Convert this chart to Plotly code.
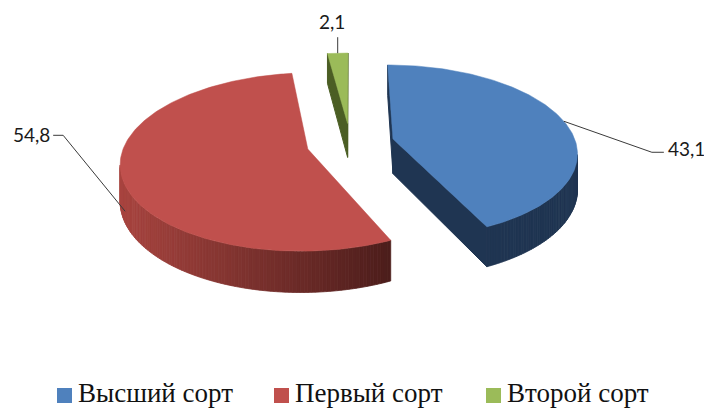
import numpy as np
import plotly.graph_objects as go

# ---------------- data ----------------
categories = ["Высший сорт", "Первый сорт", "Второй сорт"]
values = [43.1, 54.8, 2.1]

# ---------------- styles ----------------
top_colors = ["#4F81BD", "#C0504D", "#9BBB59"]
side_colors = ["#1F3552", "#7A2F2D", "#4B5E24"]
red_grad = ((168, 68, 63), (76, 29, 27))   # left -> right shading of the red wall

# ---------------- 3D pie geometry (page pixels) ----------------
CX, CY = 350.4, 143.3      # projected pie centre
K, B = 183.0, 85.7         # horizontal / vertical radius scale
A = 0.1429                 # perspective strength
H = 35.0                   # thickness
PULL = 0.24                # explosion (fraction of radius)
CAM_V = -1.0 / A
PAGE_OFF = 8               # browser default body margin


def proj(u, v):
    d = 1 + A * v
    return CX + K * u / d, CY - B * v / d


def drop(v):
    return H / (1 + A * v)


def lerp_col(t):
    c0, c1 = red_grad
    t = min(max(t, 0), 1)
    return "rgb(%d,%d,%d)" % tuple(round(a + (b - a) * t) for a, b in zip(c0, c1))


total = sum(values)
bounds = np.concatenate([[0], np.cumsum(values)]) / total * 360.0

fig = go.Figure()


def poly(xs, ys, color, lw=1.0):
    fig.add_trace(go.Scatter(
        x=list(xs) + [xs[0]], y=list(ys) + [ys[0]], mode="lines", fill="toself",
        fillcolor=color, line=dict(color=color, width=lw),
        hoverinfo="skip", showlegend=False))


slices = []
for i, val in enumerate(values):
    s, e = bounds[i], bounds[i + 1]
    m = np.radians((s + e) / 2)
    pu, pv = PULL * np.sin(m), PULL * np.cos(m)
    slices.append((i, s, e, pu, pv))

label_info = {}
for i, s, e, pu, pv in sorted(slices, key=lambda t: -t[4]):
    ths = np.radians(np.linspace(s, e, max(2, int(e - s) + 2)))
    # cut faces
    for th, sign in ((np.radians(s), -1), (np.radians(e), 1)):
        if sign < 0:
            n = (-np.cos(th), np.sin(th))
        else:
            n = (np.cos(th), -np.sin(th))
        if (0 - pu) * n[0] + (CAM_V - pv) * n[1] > 0:
            ax, ay = proj(pu, pv)
            eu, ev = pu + np.sin(th), pv + np.cos(th)
            ex, ey = proj(eu, ev)
            poly([ax, ex, ex, ax], [ay, ey, ey + drop(ev), ay + drop(pv)], side_colors[i])
    # outer wall strips (visible ones, back to front)
    strips = []
    for t0, t1 in zip(ths[:-1], ths[1:]):
        tm = (t0 + t1) / 2
        P = (pu + np.sin(tm), pv + np.cos(tm))
        nrm = (np.sin(tm), np.cos(tm))
        if (0 - P[0]) * nrm[0] + (CAM_V - P[1]) * nrm[1] > 0:
            strips.append((P[1], t0, t1))
    for _, t0, t1 in sorted(strips, key=lambda t: -t[0]):
        u0, v0 = pu + np.sin(t0), pv + np.cos(t0)
        u1, v1 = pu + np.sin(t1), pv + np.cos(t1)
        x0, y0 = proj(u0, v0)
        x1, y1 = proj(u1, v1)
        if i == 1:
            col = lerp_col(((x0 + x1) / 2 - 120) / (390 - 120))
        else:
            col = side_colors[i]
        poly([x0, x1, x1, x0], [y0, y1, y1 + drop(v1), y0 + drop(v0)], col, lw=0.8)
    # top face
    ax, ay = proj(pu, pv)
    xs, ys = [ax], [ay]
    for th in ths:
        x, y = proj(pu + np.sin(th), pv + np.cos(th))
        xs.append(x)
        ys.append(y)
    poly(xs, ys, top_colors[i], lw=0.5)
    # anchor for data label
    mth = np.radians((s + e) / 2)
    mu, mv = pu + np.sin(mth), pv + np.cos(mth)
    mx, my = proj(mu, mv)
    label_info[i] = (mx, my, drop(mv))

# ---------------- data labels with leader lines ----------------
def fmt(v):
    return ("%.1f" % v).replace(".", ",")

lab_font = dict(family="Lato", size=19, color="#1a1a1a")
line_col = "#3a3a3a"

# blue (right)
bx, by, _ = label_info[0]
ex, ey = bx + 88, by + 31
fig.add_trace(go.Scatter(x=[bx, ex, ex + 12], y=[by, ey, ey], mode="lines",
                         line=dict(color=line_col, width=1), hoverinfo="skip", showlegend=False))
fig.add_annotation(x=ex + 14, y=ey - 4, text=fmt(values[0]), showarrow=False,
                   xanchor="left", yanchor="middle", font=lab_font)
# red (left)
rx, ry, rd = label_info[1]
ry += rd
rx += 4
ex, ey = rx - 62, ry - 76
fig.add_trace(go.Scatter(x=[rx, ex, ex - 10], y=[ry, ey, ey], mode="lines",
                         line=dict(color=line_col, width=1), hoverinfo="skip", showlegend=False))
fig.add_annotation(x=ex - 11, y=ey - 1, text=fmt(values[1]), showarrow=False,
                   xanchor="right", yanchor="middle", font=lab_font)
# green (top)
gx, gy, _ = label_info[2]
fig.add_trace(go.Scatter(x=[gx, gx], y=[gy, gy - 16], mode="lines",
                         line=dict(color=line_col, width=1), hoverinfo="skip", showlegend=False))
fig.add_annotation(x=gx - 6, y=gy - 18, text=fmt(values[2]), showarrow=False,
                   xanchor="center", yanchor="bottom", font=lab_font)

# ---------------- legend ----------------
leg_x = [57, 274, 486]
for name, col, lx in zip(categories, top_colors, leg_x):
    fig.add_shape(type="rect", xref="x", yref="y", x0=lx, x1=lx + 15, y0=388, y1=403,
                  fillcolor=col, line=dict(width=0))
    fig.add_annotation(x=lx + 19, y=393, xref="x", yref="y", text=name,
                       showarrow=False, xanchor="left", yanchor="middle",
                       font=dict(family="Liberation Serif", size=27, color="#111111"))

fig.update_layout(
    width=712, height=408,
    margin=dict(l=0, r=0, t=0, b=0),
    paper_bgcolor="white", plot_bgcolor="white",
    showlegend=False,
    xaxis=dict(range=[PAGE_OFF, 712 + PAGE_OFF], visible=False, fixedrange=True),
    yaxis=dict(range=[408 + PAGE_OFF, PAGE_OFF], visible=False, fixedrange=True),
)

fig.write_html("out.html")
